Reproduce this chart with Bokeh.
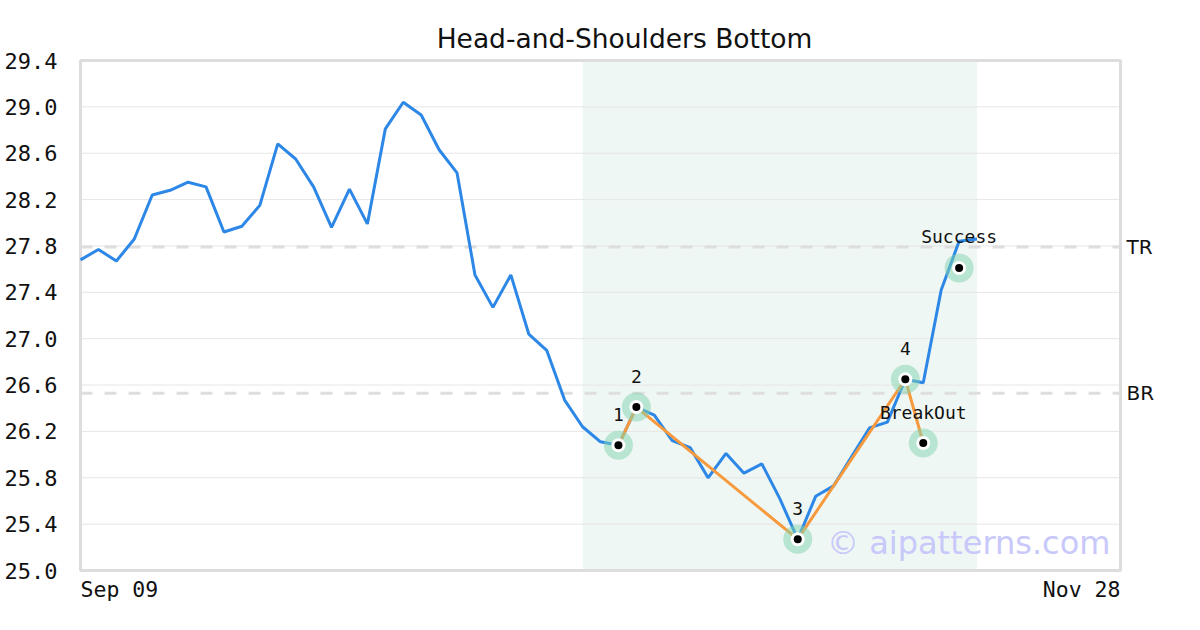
from bokeh.plotting import figure
from bokeh.models import FixedTicker, PrintfTickFormatter, BoxAnnotation, Range1d, ColumnDataSource
from bokeh.core.properties import value
from bokeh.embed import file_html
from bokeh.resources import INLINE

# ---- data ----
price = [27.68, 27.77, 27.67, 27.86, 28.24, 28.28, 28.35, 28.31, 27.92, 27.97, 28.15,
         28.68, 28.55, 28.31, 27.96, 28.29, 27.99, 28.81, 29.04, 28.93, 28.63, 28.43,
         27.55, 27.27, 27.55, 27.04, 26.90, 26.47, 26.24, 26.11, 26.08, 26.41, 26.34,
         26.12, 26.06, 25.80, 26.01, 25.84, 25.92, 25.62, 25.27, 25.64, 25.73, 25.98,
         26.23, 26.28, 26.65, 26.62, 27.42, 27.84, 27.86]
day = list(range(len(price)))

pattern_idx = [30, 31, 40, 46, 47]
pattern_val = [26.08, 26.41, 25.27, 26.65, 26.10]
pattern_lbl = ["1", "2", "3", "4", "BreakOut"]

success_idx = [49]
success_val = [27.61]
success_lbl = ["Success"]

level_val = [27.79, 26.53]
level_lbl = ["TR", "BR"]
band_start, band_end = 28, 50

x_tick_pos = [0, 58]
x_tick_lbl = ["Sep 09", "Nov 28"]
y_ticks = [25.0, 25.4, 25.8, 26.2, 26.6, 27.0, 27.4, 27.8, 28.2, 28.6, 29.0, 29.4]

MONO = "DejaVu Sans Mono"
SANS = "DejaVu Sans"
INK = "#111111"

# ---- layout geometry (pixels) ----
W, H = 1184, 614
BOX_L, BOX_R, BOX_T, BOX_B = 80, 1120, 60, 570          # visible chart box
FR_L, FR_R, FR_T, FR_B = 78, 1170, 54, 614              # bokeh frame (a bit larger)
x0, x1 = x_tick_pos[0], x_tick_pos[1]
y0, y1 = y_ticks[0], y_ticks[-1]
ppx = (BOX_R - BOX_L) / (x1 - x0)
ppy = (BOX_B - BOX_T) / (y1 - y0)

p = figure(width=W, height=H, output_backend="svg", toolbar_location=None,
           x_axis_location=None,
           x_range=Range1d(x0 - (BOX_L - FR_L) / ppx, x1 + (FR_R - BOX_R) / ppx),
           y_range=Range1d(y0 - (FR_B - BOX_B) / ppy, y1 + (BOX_T - FR_T) / ppy),
           min_border_left=FR_L, min_border_right=W - FR_R,
           min_border_top=FR_T, min_border_bottom=H - FR_B,
           title="Head-and-Shoulders Bottom")
p.title.align = "center"
p.title.text_font = SANS
p.title.text_font_size = "26.5px"
p.title.text_font_style = "normal"
p.title.text_color = INK
p.title.standoff = 2

p.outline_line_color = None
p.xgrid.visible = False
p.ygrid.visible = False

p.yaxis.ticker = FixedTicker(ticks=y_ticks)
p.yaxis.formatter = PrintfTickFormatter(format="%.1f")
p.yaxis.axis_line_color = None
p.yaxis.major_tick_line_color = None
p.yaxis.minor_tick_line_color = None
p.yaxis.major_tick_out = 0
p.yaxis.major_tick_in = 0
p.yaxis.major_label_standoff = FR_L - 57
p.yaxis.major_label_text_font = MONO
p.yaxis.major_label_text_font_size = "22px"
p.yaxis.major_label_text_color = INK

# shaded pattern band
p.add_layout(BoxAnnotation(left=band_start, right=band_end, bottom=y0, top=y1,
                           fill_color="#eff7f4", fill_alpha=1.0, line_color=None, level="image"))

# horizontal grid lines inside the box
n = len(y_ticks)
p.segment(x0=[x0] * n, y0=y_ticks, x1=[x1] * n, y1=y_ticks, line_color="#e6e6e6", line_width=1)

# TR / BR dashed levels
m = len(level_val)
p.segment(x0=[x0] * m, y0=level_val, x1=[x1] * m, y1=level_val,
          line_color="#dedede", line_width=3, line_dash="12 12")

# box outline
p.quad(left=[x0], right=[x1], bottom=[y0], top=[y1], fill_color=None,
       line_color="#dddddd", line_width=3)

p.line(day, price, line_color="#2c87e6", line_width=3)
p.line(pattern_idx, pattern_val, line_color="#f79a3e", line_width=3)

mx = pattern_idx + success_idx
my = pattern_val + success_val
p.scatter(mx, my, size=29, fill_color="#7fd3ad", fill_alpha=0.5, line_color=None)
p.scatter(mx, my, size=14, fill_color="white", line_color=None)
p.scatter(mx, my, size=8, fill_color="black", line_color=None)

src = ColumnDataSource(dict(x=mx, y=my, t=pattern_lbl + success_lbl))
p.text(x="x", y="y", text="t", source=src, text_font=value(MONO), text_font_size="18px",
       text_align="center", text_baseline="middle", y_offset=-31, text_color=INK)

# x tick labels (first left-aligned, last right-aligned)
p.text(x=[x_tick_pos[0]], y=[y0], text=[x_tick_lbl[0]], text_font=value(MONO),
       text_font_size="21.5px", text_align="left", text_baseline="top", y_offset=6, text_color=INK)
p.text(x=[x_tick_pos[1]], y=[y0], text=[x_tick_lbl[1]], text_font=value(MONO),
       text_font_size="21.5px", text_align="right", text_baseline="top", y_offset=6, text_color=INK)

# level labels on the right
p.text(x=[x1] * m, y=level_val, text=level_lbl, text_font=value(SANS), text_font_size="20px",
       text_align="left", text_baseline="middle", x_offset=6, text_color=INK)

# watermark
p.text(x=[57.44], y=[25.24], text=["© aipatterns.com"], text_font=value(SANS),
       text_font_size="32px", text_align="right", text_baseline="middle", text_color="#c8c8fa")

open("out.html", "w").write(file_html(p, INLINE))
